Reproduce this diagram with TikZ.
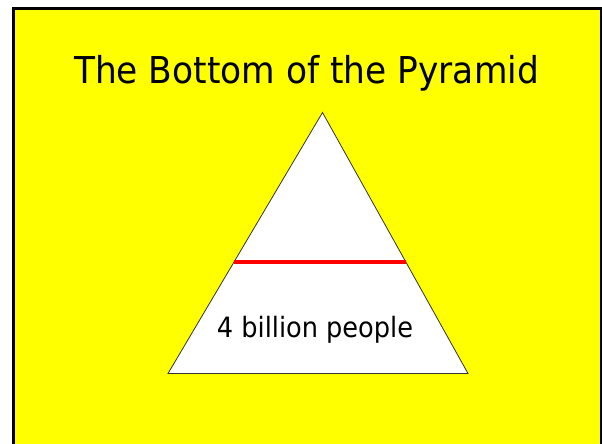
\documentclass[tikz,border=0pt]{standalone}
\usepackage{fontspec}
\setmainfont{DejaVu Sans}
\usetikzlibrary{calc}
\definecolor{slideyellow}{RGB}{255,255,0}
\definecolor{lineRed}{RGB}{255,0,0}
\begin{document}
\begin{tikzpicture}[x=1pt,y=-1pt,
  titletext/.style={anchor=base,inner sep=0pt,font=\fontsize{37}{40}\selectfont,xscale=0.93},
  labeltext/.style={anchor=base,inner sep=0pt,font=\fontsize{28}{32}\selectfont,xscale=0.915},
  pyr/.style={fill=white,draw=black!80,line width=0.8pt,line join=miter},
  divider/.style={draw=lineRed,line width=4pt}]
\useasboundingbox (0,0) rectangle (602,444);
\fill[white] (0,0) rectangle (602,444);
\begin{scope}
\clip (0,0) rectangle (602,444);
\draw[fill=slideyellow,line width=3pt] (13.5,8.5) rectangle (601,470);
\end{scope}
\node[titletext] (title) at (306.5,84) {The Bottom of the Pyramid};
\coordinate (apex) at (322.5,112.5);
\coordinate (bl) at (168,373.5);
\coordinate (br) at (468,373.5);
\draw[pyr] (apex) -- (bl) -- (br) -- cycle;
\coordinate (dl) at ($(apex)!0.5716!(bl)$);
\coordinate (dr) at ($(apex)!0.5716!(br)$);
\draw[divider] (dl) -- (dr);
\node[labeltext] (label) at (315,337) {4 billion people};
\end{tikzpicture}
\end{document}
